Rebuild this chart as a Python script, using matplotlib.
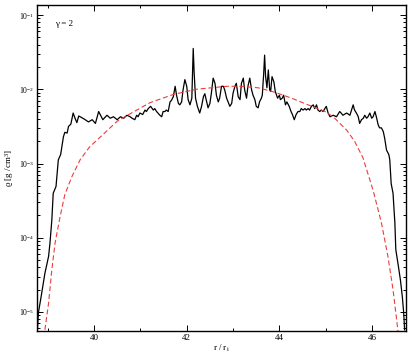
import numpy as np
import matplotlib
matplotlib.use("Agg")
import matplotlib.pyplot as plt
from matplotlib.ticker import LogLocator, MultipleLocator, LogFormatterMathtext

plt.rcParams['font.family'] = ['Liberation Serif', 'DejaVu Serif']
plt.rcParams['mathtext.fontset'] = 'custom'
plt.rcParams['mathtext.rm'] = 'Liberation Serif'
plt.rcParams['mathtext.it'] = 'Liberation Serif:italic'

# simulation profile (r / r_i, log10 rho)
sim_r = [38.78, 38.80, 38.86, 38.94, 39.02, 39.05, 39.09, 39.12, 39.18, 39.23, 39.28, 39.34,
         39.37, 39.42, 39.45, 39.50, 39.55, 39.59, 39.63, 39.67, 39.73, 39.81, 39.88, 39.96,
         40.03, 40.10, 40.14, 40.19, 40.28, 40.35, 40.42, 40.50, 40.57, 40.64, 40.71, 40.78,
         40.82, 40.88, 40.92, 40.95, 40.99, 41.05, 41.10, 41.13, 41.17, 41.22, 41.28, 41.31,
         41.35, 41.42, 41.46, 41.49, 41.53, 41.56, 41.60, 41.64, 41.67, 41.71, 41.75, 41.78,
         41.82, 41.85, 41.89, 41.92, 41.96, 42.00, 42.03, 42.07, 42.11, 42.14, 42.16, 42.19,
         42.23, 42.28, 42.32, 42.36, 42.39, 42.42, 42.46, 42.50, 42.53, 42.57, 42.61, 42.64,
         42.68, 42.71, 42.75, 42.79, 42.82, 42.86, 42.93, 42.97, 43.00, 43.04, 43.07, 43.11,
         43.15, 43.18, 43.22, 43.25, 43.29, 43.32, 43.36, 43.40, 43.43, 43.47, 43.50, 43.54,
         43.57, 43.61, 43.63, 43.66, 43.68, 43.70, 43.73, 43.76, 43.79, 43.81, 43.84, 43.88,
         43.91, 43.96, 44.00, 44.02, 44.06, 44.09, 44.13, 44.16, 44.21, 44.25, 44.28, 44.32,
         44.36, 44.40, 44.44, 44.47, 44.51, 44.55, 44.58, 44.62, 44.65, 44.69, 44.73, 44.76,
         44.80, 44.83, 44.87, 44.90, 44.94, 45.01, 45.05, 45.09, 45.16, 45.23, 45.30, 45.33,
         45.37, 45.45, 45.52, 45.59, 45.62, 45.66, 45.70, 45.73, 45.77, 45.81, 45.84, 45.88,
         45.91, 45.95, 45.99, 46.02, 46.06, 46.09, 46.13, 46.16, 46.20, 46.24, 46.27, 46.31,
         46.36, 46.38, 46.41, 46.45, 46.49, 46.51, 46.56, 46.61, 46.65, 46.68, 46.70]
sim_logrho = [-5.24, -5.01, -4.79, -4.48, -4.25, -4.07, -3.76, -3.40, -3.31, -2.95, -2.88, -2.64,
              -2.58, -2.59, -2.50, -2.47, -2.32, -2.39, -2.45, -2.36, -2.38, -2.41, -2.44, -2.41,
              -2.46, -2.30, -2.35, -2.41, -2.35, -2.39, -2.37, -2.41, -2.37, -2.39, -2.35, -2.37,
              -2.39, -2.41, -2.35, -2.37, -2.32, -2.34, -2.28, -2.30, -2.26, -2.23, -2.28, -2.26,
              -2.30, -2.35, -2.37, -2.30, -2.30, -2.28, -2.30, -2.17, -2.15, -2.10, -1.96, -2.08,
              -2.19, -2.21, -2.17, -2.01, -1.87, -1.96, -2.14, -2.21, -2.12, -1.45, -1.78, -2.12,
              -2.23, -2.32, -2.23, -2.10, -2.06, -2.14, -2.25, -2.19, -2.06, -1.85, -1.92, -2.08,
              -2.17, -2.12, -1.96, -1.96, -2.01, -2.12, -2.23, -2.19, -2.05, -1.96, -1.92, -2.10,
              -2.14, -1.92, -1.85, -2.01, -2.12, -1.96, -1.85, -2.01, -2.08, -2.14, -2.23, -2.25,
              -2.17, -2.12, -2.08, -1.79, -1.54, -1.82, -1.98, -1.74, -2.01, -2.03, -1.83, -1.90,
              -2.03, -2.12, -2.08, -2.14, -2.12, -2.08, -2.21, -2.17, -2.23, -2.30, -2.34, -2.41,
              -2.34, -2.30, -2.30, -2.26, -2.28, -2.26, -2.28, -2.26, -2.28, -2.23, -2.21, -2.26,
              -2.21, -2.28, -2.30, -2.28, -2.30, -2.23, -2.32, -2.37, -2.35, -2.37, -2.30, -2.32,
              -2.35, -2.32, -2.35, -2.21, -2.28, -2.32, -2.37, -2.46, -2.41, -2.39, -2.35, -2.39,
              -2.37, -2.32, -2.39, -2.37, -2.30, -2.37, -2.48, -2.52, -2.52, -2.57, -2.66, -2.82,
              -2.88, -2.95, -3.27, -3.40, -3.80, -4.16, -4.36, -4.57, -4.79, -5.01, -5.24]

# analytic torus profile (red dashed)
ana_r = [38.94, 39.02, 39.09, 39.16, 39.27, 39.37, 39.52, 39.70, 39.90, 40.21, 40.50, 40.78,
         41.21, 41.71, 42.21, 42.86, 43.18, 43.54, 43.90, 44.26, 44.62, 44.98, 45.16, 45.45,
         45.62, 45.80, 46.02, 46.20, 46.34, 46.45, 46.52, 46.56]
ana_logrho = [-5.24, -4.88, -4.43, -4.07, -3.71, -3.42, -3.18, -2.95, -2.78, -2.60, -2.43, -2.33,
              -2.18, -2.07, -2.00, -1.96, -1.96, -1.98, -2.04, -2.12, -2.21, -2.30, -2.37, -2.55,
              -2.70, -2.92, -3.36, -3.80, -4.25, -4.70, -5.06, -5.28]

W, H = 411, 357
fig = plt.figure(figsize=(W / 100, H / 100), dpi=100)
ax = fig.add_axes([37 / W, 1 - 331 / H, (406 - 37) / W, (331 - 5) / H])

ax.plot(sim_r, 10 ** np.array(sim_logrho), color='black', lw=0.9)
ax.plot(ana_r, 10 ** np.array(ana_logrho), color='#ee3b3b', lw=0.8, dashes=(4.5, 2.5))

ax.set_yscale('log')
ax.set_xlim(38.77, 46.73)
ax.set_ylim(10 ** -5.256, 10 ** -0.865)

ax.xaxis.set_major_locator(MultipleLocator(2))
ax.xaxis.set_minor_locator(MultipleLocator(1))
ax.yaxis.set_major_locator(LogLocator(base=10, numticks=20))
ax.yaxis.set_minor_locator(LogLocator(base=10, subs=np.arange(2, 10), numticks=20))
ax.yaxis.set_major_formatter(LogFormatterMathtext())
ax.yaxis.set_minor_formatter(plt.NullFormatter())

ax.tick_params(which='both', direction='in', top=True, right=True, labelsize=6.5, width=0.7)
ax.tick_params(which='major', length=4)
ax.tick_params(which='minor', length=2)
ax.tick_params(axis='x', pad=2)
ax.tick_params(axis='y', labelsize=5.5, pad=2)
for s in ax.spines.values():
    s.set_linewidth(1.0)

ax.set_xlabel('r / r$_\\mathrm{i}$', fontsize=6.5, labelpad=1)
ax.set_ylabel('ϱ [g /cm$^3$]', fontsize=6.5, labelpad=2)
ax.text(0.05, 0.955, 'γ = 2', transform=ax.transAxes, fontsize=6.5, va='top', ha='left')

fig.savefig('out.png', dpi=100)
